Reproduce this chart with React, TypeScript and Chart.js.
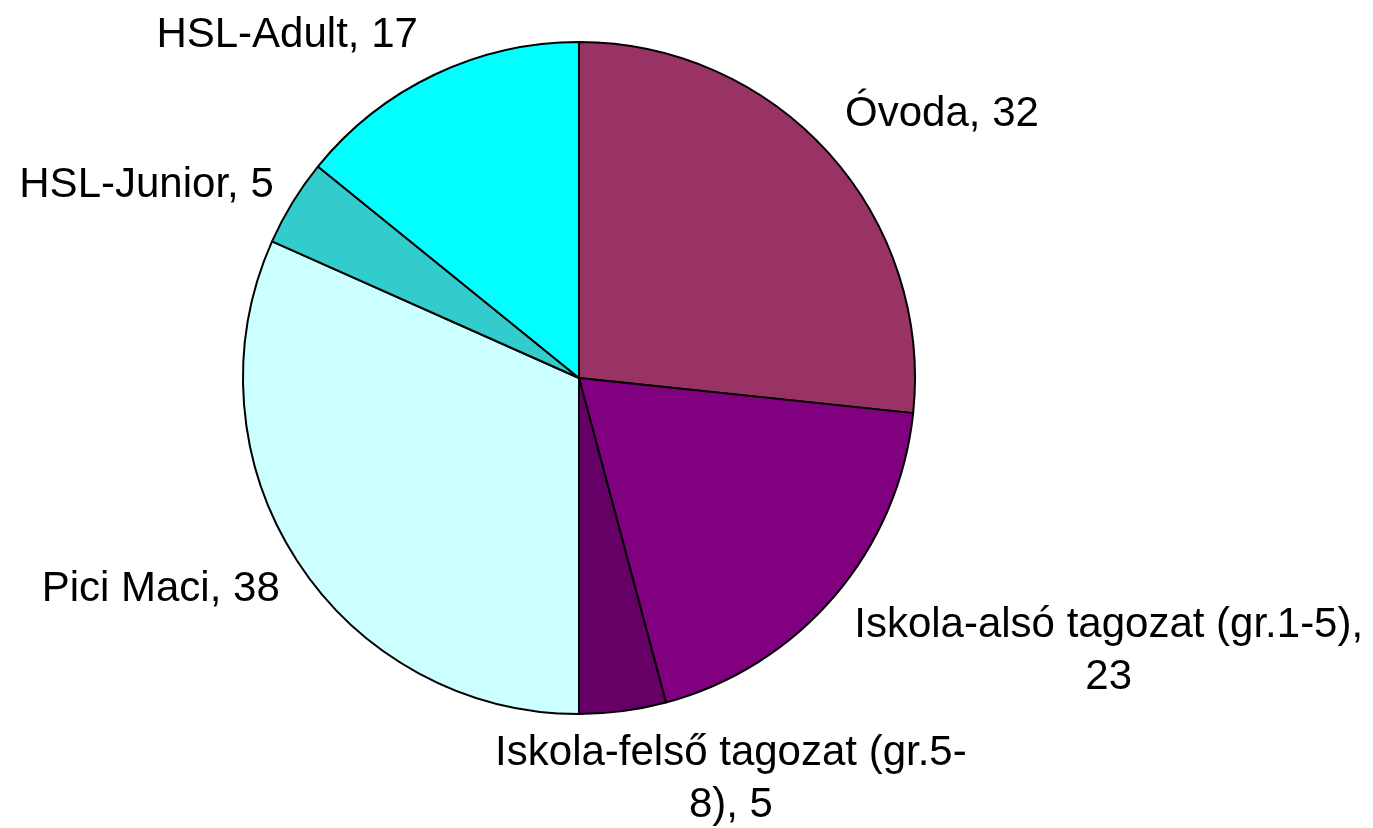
import React, { useEffect, useRef } from "react";
import { Chart, registerables } from "chart.js";

Chart.register(...registerables);

// ---- data ----
const categories = [
  "Óvoda",
  "Iskola-alsó tagozat (gr.1-5)",
  "Iskola-felső tagozat (gr.5-8)",
  "Pici Maci",
  "HSL-Junior",
  "HSL-Adult",
];
const values = [32, 23, 5, 38, 5, 17];
const sliceColors = ["#993366", "#800080", "#660066", "#CCFFFF", "#33CCCC", "#00FFFF"];

// ---- label styling ----
const FONT_SIZE = 42;
const FONT = `${FONT_SIZE}px "Liberation Sans", Arial, sans-serif`;
const LINE_H = 52;
const WRAP_WIDTH = 517;
const LABEL_GAP = 22;
const ALIGN_K = 3.45;
const labelNudges: [number, number][] = [
  [0, 1],
  [3, -13],
  [-1, -7],
  [1, -11.5],
  [0, 19.5],
  [-7, 5.5],
];

const clamp = (v: number) => Math.max(-1, Math.min(1, v));

function wrapText(ctx: CanvasRenderingContext2D, text: string, maxW: number): string[] {
  const tokens = text.split(/(?<=[ -])/);
  const lines: string[] = [];
  let cur = "";
  for (const t of tokens) {
    const cand = cur + t;
    if (cur && ctx.measureText(cand.trimEnd()).width > maxW) {
      lines.push(cur.trimEnd());
      cur = t;
    } else {
      cur = cand;
    }
  }
  if (cur) lines.push(cur.trimEnd());
  return lines;
}

const outLabels = {
  id: "outLabels",
  afterDraw(chart: any) {
    const ctx: CanvasRenderingContext2D = chart.ctx;
    const meta = chart.getDatasetMeta(0);
    ctx.save();
    ctx.font = FONT;
    ctx.fillStyle = "#000";
    ctx.textAlign = "center";
    ctx.textBaseline = "alphabetic";
    meta.data.forEach((arc: any, i: number) => {
      const { x, y, startAngle, endAngle, outerRadius } = arc.getProps(
        ["x", "y", "startAngle", "endAngle", "outerRadius"],
        true
      );
      const mid = (startAngle + endAngle) / 2;
      const dx = Math.cos(mid);
      const dy = Math.sin(mid);
      const r = outerRadius + LABEL_GAP;
      const px = x + dx * r;
      const py = y + dy * r;
      const text = `${categories[i]}, ${values[i]}`;
      const lines = wrapText(ctx, text, WRAP_WIDTH);
      const w = Math.max(...lines.map((l) => ctx.measureText(l).width));
      const h = lines.length * LINE_H;
      const cx = px + clamp(dx * ALIGN_K) * (w / 2) + labelNudges[i][0];
      const cy = py + clamp(dy * ALIGN_K) * (h / 2) + labelNudges[i][1];
      lines.forEach((l, j) => {
        const lineCenter = cy - h / 2 + LINE_H * (j + 0.5);
        ctx.fillText(l, cx, lineCenter + FONT_SIZE * 0.31);
      });
    });
    ctx.restore();
  },
};

export default function App() {
  const canvasRef = useRef<HTMLCanvasElement | null>(null);

  useEffect(() => {
    document.body.style.margin = "0";
    const canvas = canvasRef.current;
    if (!canvas) return;
    const chart = new Chart(canvas, {
      type: "pie",
      data: {
        labels: categories,
        datasets: [
          {
            data: values,
            backgroundColor: sliceColors,
            borderColor: "#000000",
            borderWidth: 2,
          },
        ],
      },
      options: {
        responsive: false,
        animation: false,
        devicePixelRatio: 1,
        layout: { padding: { left: 242, top: 41, right: 457, bottom: 113 } },
        plugins: {
          legend: { display: false },
          tooltip: { enabled: false },
        },
      },
      plugins: [outLabels],
    } as any);
    return () => chart.destroy();
  }, []);

  return (
    <div style={{ position: "fixed", left: 0, top: 0, width: 1373, height: 828, background: "#fff" }}>
      <canvas ref={canvasRef} width={1373} height={828} style={{ width: 1373, height: 828 }} />
    </div>
  );
}
